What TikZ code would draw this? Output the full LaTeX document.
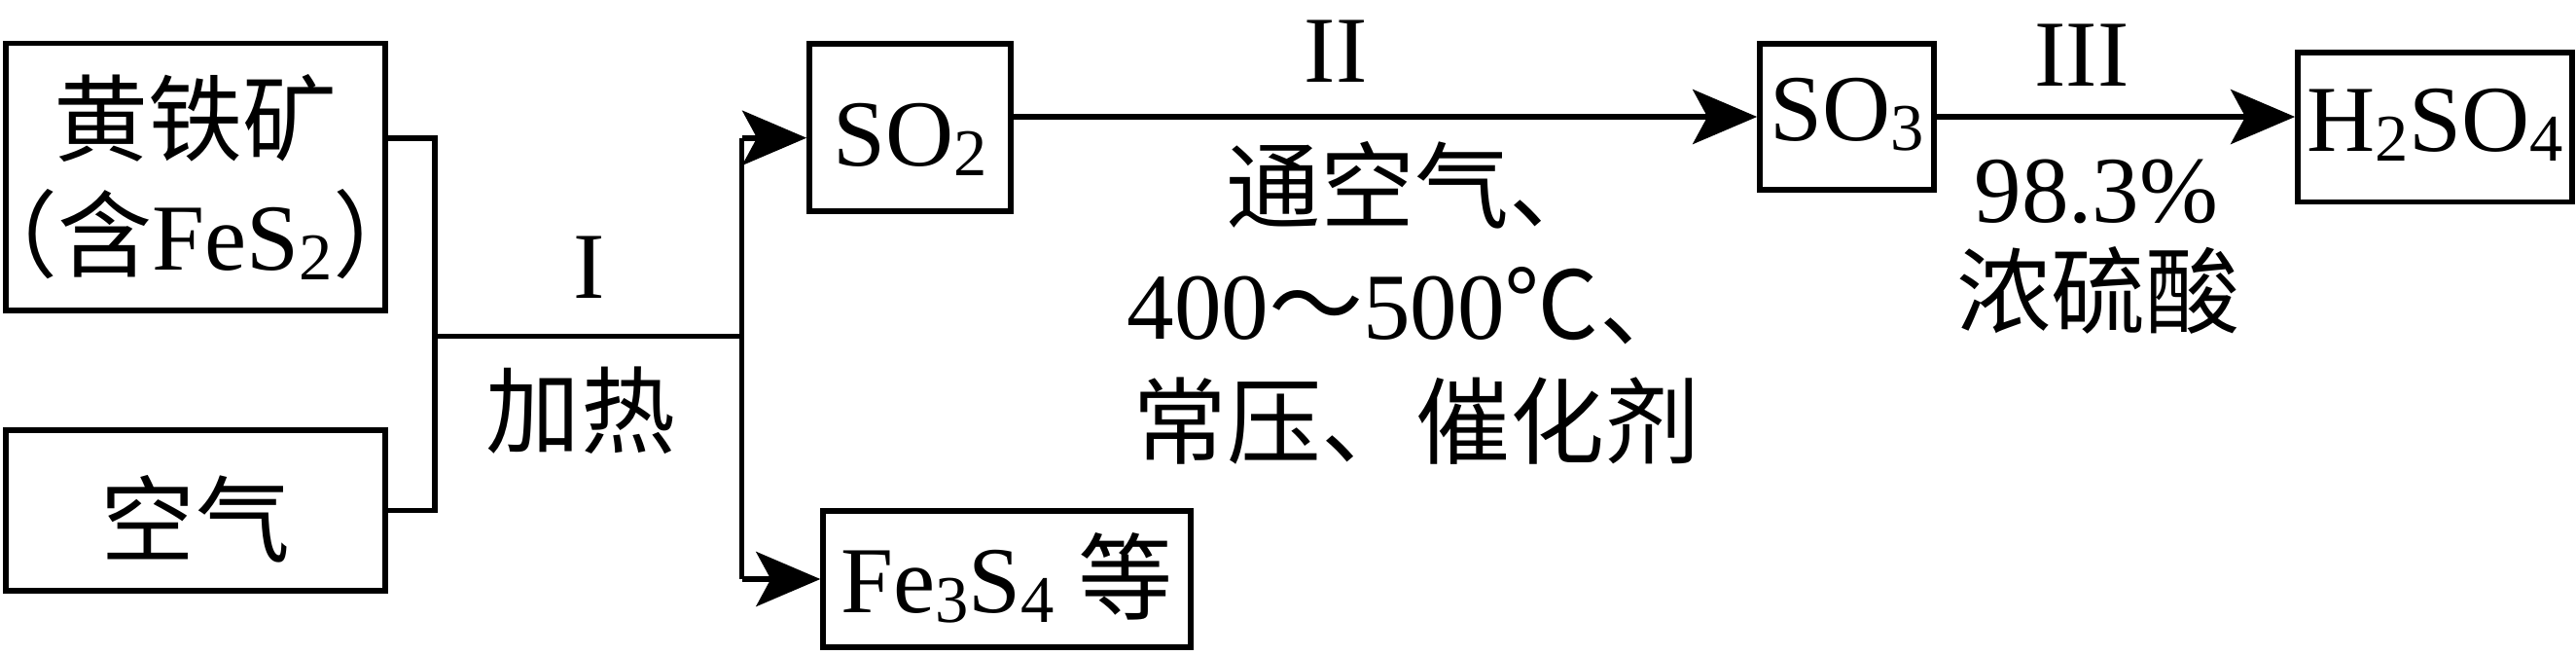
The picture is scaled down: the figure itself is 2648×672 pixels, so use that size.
\documentclass[tikz,border=0pt]{standalone}
\usepackage{fontspec}
\setmainfont{Liberation Serif}
\newfontfamily\cjk{Noto Sans CJK SC}
\newfontfamily\cjkh[RawFeature=+halt]{Noto Sans CJK SC}
\usetikzlibrary{arrows.meta}
\newcommand\subsc[1]{\raisebox{-0.1cm}{\fontsize{19.5pt}{20pt}\selectfont #1}}
\tikzset{
  every node/.style={font=\fontsize{27.6pt}{33.9pt}\selectfont, inner sep=0pt},
  box/.style={draw, line width=1.6pt, rectangle},
  conn/.style={line width=1.6pt},
  arr/.style={conn, -{Stealth[length=0.66cm,width=0.56cm,inset=0.15cm]}},
}
\begin{document}
\begin{tikzpicture}[x=0.01cm,y=-0.01cm]
\useasboundingbox (0,0) rectangle (2648,672);
% boxes
\node[box, minimum width=3.9cm, minimum height=2.745cm, align=center] (ore) at (201,181.75)
  {{\cjk 黄铁矿}\\{\cjkh （}{\cjk 含}FeS\subsc{2}{\cjkh ）}};
\node[box, minimum width=3.9cm, minimum height=1.65cm, text height=0.91cm, text depth=0pt] (air) at (201,524.5) {\cjk 空气};
\node[box, minimum width=2.07cm, minimum height=1.715cm, text height=0.79cm, text depth=0pt] (so2) at (935.5,131) {SO\subsc{2}};
\node[box, minimum width=3.775cm, minimum height=1.395cm, text height=0.68cm, text depth=0pt] (fe) at (1035,595) {Fe\subsc{3}S\subsc{4} {\cjk 等}};
\node[box, minimum width=1.79cm, minimum height=1.495cm, text height=0.48cm, text depth=0pt] (so3) at (1898.5,120) {SO\subsc{3}};
\node[box, minimum width=2.82cm, minimum height=1.535cm, text height=0.49cm, text depth=0pt] (h2so4) at (2503,130.75) {H\subsc{2}SO\subsc{4}};
% junction points
\coordinate (b1) at (447,141.7);
\coordinate (b2) at (447,524.5);
\coordinate (m1) at (447,345.5);
\coordinate (m2) at (762.5,345.5);
\coordinate (t) at (762.5,141.7);
\coordinate (u) at (762.5,595);
% connectors
\draw[conn] (ore.east |- b1) -- (b1) -- (b2) -- (air.east);
\draw[conn] (m1) -- (m2);
\draw[conn] (t) -- (u);
\draw[arr] (t) -- (so2.west |- t);
\draw[arr] (u) -- (fe.west);
\draw[arr] (so2.east |- so3.west) -- (so3.west);
\draw[arr] (so3.east) -- (so3.east -| h2so4.west);
% labels
\node[anchor=base] (lI) at (606,306) {I};
\node (heat) at (597,422) {\cjk 加热};
\node[anchor=base] (lII) at (1373,84) {II};
\node[anchor=base west] (c1) at (1260,227) {\cjk 通空气、};
\node[anchor=base west] (c2) at (1158,348) {400{\cjk ～}500{\cjk ℃、}};
\node[anchor=base west] (c3) at (1164,469) {\cjk 常压、催化剂};
\node[anchor=base] (lIII) at (2140,88) {III};
\node[anchor=base] (pct) at (2155,228) {98.3\%};
\node (acid) at (2157,298.5) {\cjk 浓硫酸};
\end{tikzpicture}
\end{document}
